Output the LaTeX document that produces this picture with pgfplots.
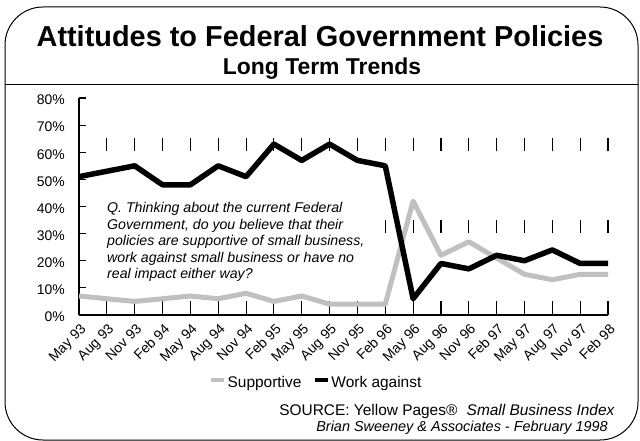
\documentclass[border=0pt]{standalone}
\usepackage{fontspec}
\setmainfont{Liberation Sans}
\usepackage{pgfplots}
\pgfplotsset{compat=1.18}
\definecolor{sgray}{RGB}{192,192,192}
\begin{document}
\begin{tikzpicture}
\path[use as bounding box] (0,0) rectangle (640bp,441bp);
\begin{axis}[
  at={(79bp,126bp)}, anchor=south west,
  width=529bp, height=217bp, scale only axis,
  xmin=0, xmax=19, ymin=0, ymax=80,
  clip=false,
  axis lines*=left,
  axis line style={line width=1.2bp, black},
  xtick={0,...,19},
  xticklabels={May 93,Aug 93,Nov 93,Feb 94,May 94,Aug 94,Nov 94,Feb 95,May 95,Aug 95,Nov 95,Feb 96,May 96,Aug 96,Nov 96,Feb 97,May 97,Aug 97,Nov 97,Feb 98},
  xtick style={draw=none},
  xmajorgrids,
  major x grid style={black, line width=1.1bp, dash pattern=on 13.5bp off 68.3bp},
  ytick={0,10,...,80},
  yticklabels={0\%,10\%,20\%,30\%,40\%,50\%,60\%,70\%,80\%},
  ytick style={black, line width=1.1bp},
  tick align=inside,
  major tick length=7bp,
  yticklabel style={font=\fontsize{14}{16}\selectfont, inner sep=0pt, anchor=east, xshift=-14bp, yshift=-2bp},
  xticklabel style={font=\fontsize{14}{16}\selectfont, rotate=45, anchor=north east, inner sep=0pt, xshift=-5bp, yshift=-6bp},
  legend style={at={(0.448,-0.313)}, anchor=center, draw=none, fill=none, legend columns=2, font=\fontsize{15.5}{18}\selectfont, /tikz/every even column/.append style={column sep=10bp}, inner sep=0pt, nodes={inner sep=1.5bp}},
  legend image code/.code={\draw[#1, line width=4bp] (0bp,0.32em) -- (13bp,0.32em);},
]
\addplot[sgray, line width=5bp, line join=round] coordinates {(0,7)(1,6)(2,5)(3,6)(4,7)(5,6)(6,8)(7,5)(8,7)(9,4)(10,4)(11,4)(12,42)(13,22)(14,27)(15,21)(16,15)(17,13)(18,15)(19,15)};
\addlegendentry{Supportive}
\addplot[black, line width=5.5bp, line join=round] coordinates {(0,51)(1,53)(2,55)(3,48)(4,48)(5,55)(6,51)(7,63)(8,57)(9,63)(10,57)(11,55)(12,6)(13,19)(14,17)(15,22)(16,20)(17,24)(18,19)(19,19)};
\addlegendentry{Work against}
\end{axis}
\fill[white] (102bp,154bp) rectangle (372bp,241bp);
\begin{scope}[every node/.style={anchor=base west, inner sep=0pt, font=\fontsize{14.2}{17}\selectfont\itshape}]
\node at (107bp,228bp) {Q. Thinking about the current Federal};
\node at (107bp,211.5bp) {Government, do you believe that their};
\node at (107bp,195bp) {policies are supportive of small business,};
\node at (107bp,178.5bp) {work against small business or have no};
\node at (107bp,162bp) {real impact either way?};
\end{scope}
\draw[line width=1bp, rounded corners=38bp] (5bp,1bp) rectangle (638bp,434bp);
\draw[line width=1bp] (5bp,356bp) -- (638bp,356bp);
\node[font=\fontsize{29}{31}\selectfont\bfseries, anchor=base, inner sep=0pt] at (320bp,394bp) {Attitudes to Federal Government Policies};
\node[font=\fontsize{23}{26}\selectfont\bfseries, anchor=base, inner sep=0pt] at (322bp,366bp) {Long Term Trends};
\node[anchor=base east, inner sep=0pt, font=\fontsize{15.5}{18}\selectfont] at (615bp,26bp) {SOURCE: Yellow Pages®\hspace{0.6em}\textit{Small Business Index}};
\node[anchor=base east, inner sep=0pt, font=\fontsize{14.5}{16}\selectfont\itshape] at (608bp,10bp) {Brian Sweeney \& Associates - February 1998};
\end{tikzpicture}
\end{document}
